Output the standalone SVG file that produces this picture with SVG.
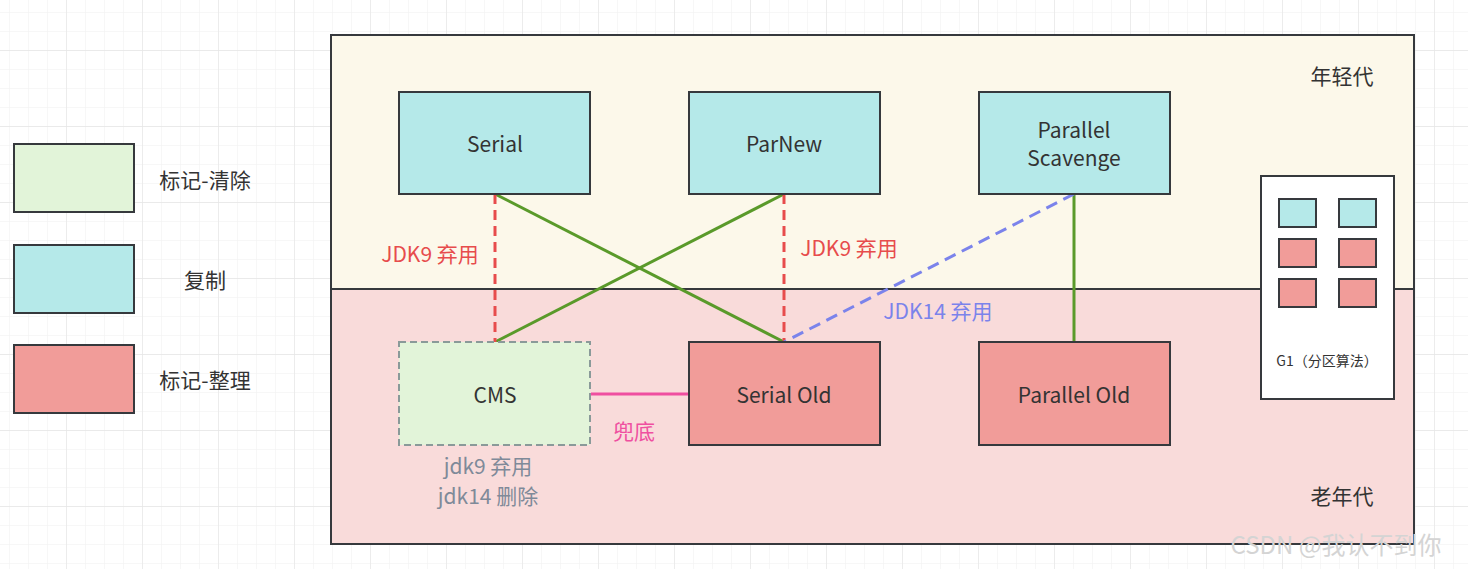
<svg xmlns="http://www.w3.org/2000/svg" width="1468" height="569" viewBox="0 0 1468 569">
<defs>
<pattern id="minor" x="9" y="12" width="19" height="19" patternUnits="userSpaceOnUse"><path d="M0 0H19M0 0V19" fill="none" stroke="#f0f0f0" stroke-width="1"/></pattern>
<pattern id="major" x="66" y="50" width="76" height="76" patternUnits="userSpaceOnUse"><path d="M0 0H76M0 0V76" fill="none" stroke="#e6e6e6" stroke-width="1.3"/></pattern>
</defs>
<style>
.t{font-family:"Microsoft YaHei","Noto Sans CJK SC",sans-serif;font-size:21px;fill:#333;text-anchor:middle;dominant-baseline:central}
.box{stroke:#36393d;stroke-width:2}
.cp{fill:#b5e9e9}.mc{fill:#f19c99}.ms{fill:#e2f4d9}
.g{stroke:#5a9a2a;stroke-width:3;fill:none}
.r{stroke:#e74c4c;stroke-width:3;stroke-dasharray:10 6;fill:none}
.rl{font-family:"Microsoft YaHei","Noto Sans CJK SC",sans-serif;font-size:21px;fill:#e74c4c;text-anchor:middle;dominant-baseline:central}
</style>
<rect width="1468" height="569" fill="#fff"/>
<rect width="1468" height="569" fill="url(#minor)"/>
<rect width="1468" height="569" fill="url(#major)"/>
<g id="young"><rect x="331" y="35" width="1083" height="254" fill="#fcf8ea" class="box"/><text class="t" x="1342" y="75">年轻代</text></g>
<g id="old"><rect x="331" y="289" width="1083" height="255" fill="#f9dbda" class="box"/><text class="t" x="1342" y="495">老年代</text></g>
<g id="legend">
<rect x="14" y="144" width="120" height="68" class="box ms"/><text class="t" x="205" y="179">标记-清除</text>
<rect x="14" y="245" width="120" height="68" class="box cp"/><text class="t" x="205" y="279">复制</text>
<rect x="14" y="345" width="120" height="68" class="box mc"/><text class="t" x="205" y="379">标记-整理</text>
</g>
<g id="connectors">
<line x1="495" y1="194" x2="784" y2="342" class="g"/>
<line x1="784" y1="194" x2="495" y2="342" class="g"/>
<line x1="1074" y1="194" x2="1074" y2="342" class="g"/>
<line x1="495" y1="194" x2="495" y2="342" class="r"/>
<line x1="784" y1="194" x2="784" y2="342" class="r"/>
<line x1="1074" y1="194" x2="784" y2="342" stroke="#7b83eb" stroke-width="3" stroke-dasharray="12 7"/>
<line x1="591" y1="394" x2="689" y2="394" stroke="#ef4fa0" stroke-width="3"/>
<text class="rl" x="430" y="253">JDK9 弃用</text>
<text class="rl" x="849" y="247">JDK9 弃用</text>
<text class="rl" x="938" y="310" style="fill:#7b83eb">JDK14 弃用</text>
<text class="rl" x="634" y="430" style="fill:#ef4fa0">兜底</text>
</g>
<g id="serial"><rect x="399" y="92" width="191" height="102" class="box cp"/><text class="t" x="495" y="143">Serial</text></g>
<g id="parnew"><rect x="689" y="92" width="191" height="102" class="box cp"/><text class="t" x="784" y="143">ParNew</text></g>
<g id="ps"><rect x="979" y="92" width="191" height="102" class="box cp"/><text class="t" x="1074" y="129">Parallel</text><text class="t" x="1074" y="157">Scavenge</text></g>
<g id="cms"><rect x="399" y="342" width="191" height="103" fill="#e2f4d9" stroke="#8a9a99" stroke-width="2" stroke-dasharray="7 4"/><text class="t" x="495" y="394">CMS</text>
<text class="t" x="488" y="465" style="fill:#7f8a99">jdk9 弃用</text><text class="t" x="488" y="495" style="fill:#7f8a99">jdk14 删除</text></g>
<g id="serialold"><rect x="689" y="342" width="191" height="103" class="box mc"/><text class="t" x="784" y="394">Serial Old</text></g>
<g id="parold"><rect x="979" y="342" width="191" height="103" class="box mc"/><text class="t" x="1074" y="394">Parallel Old</text></g>
<g id="g1"><rect x="1261" y="176" width="133" height="223" fill="#fff" class="box"/>
<rect x="1279" y="199" width="37" height="28" class="box cp"/><rect x="1339" y="199" width="37" height="28" class="box cp"/>
<rect x="1279" y="239" width="37" height="28" class="box mc"/><rect x="1339" y="239" width="37" height="28" class="box mc"/>
<rect x="1279" y="279" width="37" height="28" class="box mc"/><rect x="1339" y="279" width="37" height="28" class="box mc"/>
<text class="t" x="1327" y="360" style="font-size:14px">G1（分区算法）</text></g>
<text x="1336" y="543" style="font-family:'Microsoft YaHei','Noto Sans CJK SC',sans-serif;font-size:24px;fill:#d4d4d4;text-anchor:middle;dominant-baseline:central">CSDN @我认不到你</text>
</svg>
